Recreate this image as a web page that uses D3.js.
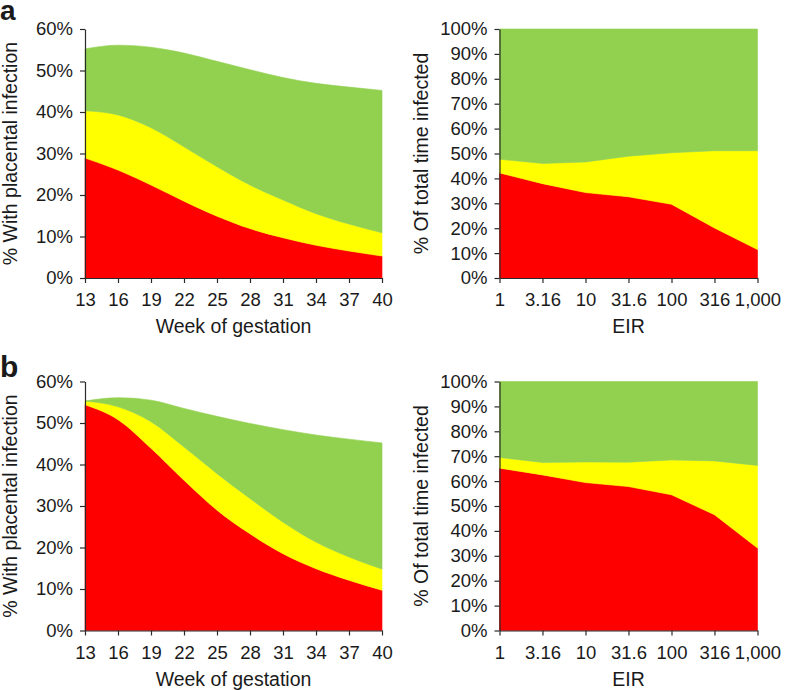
<!DOCTYPE html>
<html>
<head>
<meta charset="utf-8">
<script src="https://cdn.jsdelivr.net/npm/d3@7"></script>
<style>
  html, body { margin: 0; padding: 0; background: #fff; }
  svg { display: block; }
  text { font-family: "Liberation Sans", Arial, Helvetica, sans-serif; fill: #1a1a1a; }
</style>
</head>
<body>
<svg id="chart" width="788" height="690"></svg>
<script>
// ---------- DATA ----------
const weeks = [13, 16, 19, 22, 25, 28, 31, 34, 37, 40];
const weekTicks = [13, 16, 19, 22, 25, 28, 31, 34, 37, 40];

// Panel a (left): stacked components, % with placental infection
const aWeekRed    = [28.9, 26.0, 22.4, 18.5, 14.9, 11.9, 9.7, 7.9, 6.5, 5.3];
const aWeekYellow = [11.4, 13.3, 13.8, 13.1, 11.9, 10.5, 9.1, 7.6, 6.5, 5.6];
const aWeekGreen  = [14.9, 16.8, 19.4, 22.6, 25.4, 27.8, 29.5, 31.4, 33.0, 34.3];

// Panel b (left)
const bWeekRed    = [54.4, 50.8, 43.9, 36.2, 29.0, 23.3, 18.5, 14.9, 12.1, 9.7];
const bWeekYellow = [0.9, 3.1, 6.4, 8.0, 8.8, 8.5, 7.6, 6.4, 5.6, 5.1];
const bWeekGreen  = [0.0, 2.2, 5.2, 9.3, 13.8, 18.1, 22.3, 25.8, 28.4, 30.4];

const eir = [1, 3.16, 10, 31.6, 100, 316, 1000];
const eirLabels = ["1", "3.16", "10", "31.6", "100", "316", "1,000"];

// Panel a (right): % of total time infected
const aEirRed    = [42.2, 37.9, 34.3, 32.6, 29.6, 20.1, 11.4];
const aEirYellow = [5.5, 8.1, 12.3, 16.3, 20.7, 31.0, 39.7];
const aEirGreen  = [52.3, 54.0, 53.4, 51.1, 49.7, 48.9, 48.9];

// Panel b (right)
const bEirRed    = [65.2, 62.5, 59.4, 57.8, 54.5, 46.5, 33.1];
const bEirYellow = [4.3, 5.0, 8.3, 9.8, 14.0, 21.6, 33.2];
const bEirGreen  = [30.5, 32.5, 32.3, 32.4, 31.5, 31.9, 33.7];

const leftYTicks = [0, 10, 20, 30, 40, 50, 60];
const rightYTicks = [0, 10, 20, 30, 40, 50, 60, 70, 80, 90, 100];

const seriesKeys = ["red", "yellow", "green"];
const seriesColors = { red: "#ff0000", yellow: "#ffff00", green: "#92d050" };

const leftYTitle = "% With placental infection";
const leftXTitle = "Week of gestation";
const rightYTitle = "% Of total time infected";
const rightXTitle = "EIR";
const panelLetters = ["a", "b"];

// ---------- DRAW ----------
const svg = d3.select("#chart");
const axisColor = "#2a2a2a";

function rowsFrom(xs, r, y, g) {
  return xs.map((x, i) => ({ x: x, red: r[i], yellow: y[i], green: g[i] }));
}

function drawPanel(opt) {
  const { xs, red, yellow, green, xScale, yScale, curve, xTickVals, xTickFmt, yTickVals,
          yTitle, xTitle, yTitleX, xTitleX } = opt;
  const g = svg.append("g");
  const rows = rowsFrom(xs, red, yellow, green);
  const stack = d3.stack().keys(seriesKeys)(rows);
  const area = d3.area()
    .x(d => xScale(d.data.x))
    .y0(d => yScale(d[0]))
    .y1(d => yScale(d[1]))
    .curve(curve);
  g.selectAll("path.band").data(stack).join("path")
    .attr("class", "band")
    .attr("fill", d => seriesColors[d.key])
    .attr("stroke", d => seriesColors[d.key])
    .attr("stroke-width", 0.6)
    .attr("d", area);

  const y0 = yScale.range()[0];
  const x0 = xScale.range()[0];

  const xAxis = g.append("g").attr("transform", `translate(0,${y0})`)
    .call(d3.axisBottom(xScale).tickValues(xTickVals).tickFormat(xTickFmt)
      .tickSize(5).tickSizeOuter(0).tickPadding(10));
  const yAxis = g.append("g").attr("transform", `translate(${x0},0)`)
    .call(d3.axisLeft(yScale).tickValues(yTickVals).tickFormat(d => d + "%")
      .tickSize(5).tickSizeOuter(0).tickPadding(7));

  [xAxis, yAxis].forEach(ax => {
    ax.selectAll("path.domain").attr("stroke", axisColor).attr("stroke-width", 1.2);
    ax.selectAll(".tick line").attr("stroke", axisColor).attr("stroke-width", 1.2);
    ax.selectAll(".tick text")
      .attr("fill", "#1a1a1a")
      .style("font-family", '"Liberation Sans", Arial, Helvetica, sans-serif')
      .style("font-size", "18.5px");
  });
  xAxis.attr("font-size", null);
  yAxis.attr("font-size", null);

  const yMid = (yScale.range()[0] + yScale.range()[1]) / 2;
  const xMid = (xScale.range()[0] + xScale.range()[1]) / 2;

  g.append("text")
    .attr("transform", `translate(${yTitleX},${yMid}) rotate(-90)`)
    .attr("text-anchor", "middle")
    .style("font-size", "19.5px")
    .text(yTitle);

  g.append("text")
    .attr("x", xTitleX !== undefined ? xTitleX : xMid)
    .attr("y", y0 + 55)
    .attr("text-anchor", "middle")
    .style("font-size", "19.5px")
    .text(xTitle);
}

const leftX = d3.scaleLinear().domain([13, 40]).range([85, 382]);
const rightX = d3.scaleLog().domain([1, 1000]).range([499.5, 757.5]);

const panelRows = [
  { letterY: 20, top: 29, bottom: 278,
    L: [aWeekRed, aWeekYellow, aWeekGreen], R: [aEirRed, aEirYellow, aEirGreen] },
  { letterY: 376.5, top: 381.5, bottom: 630.5,
    L: [bWeekRed, bWeekYellow, bWeekGreen], R: [bEirRed, bEirYellow, bEirGreen] }
];

panelRows.forEach((p, i) => {
  const yL = d3.scaleLinear().domain([0, 60]).range([p.bottom, p.top]);
  const yR = d3.scaleLinear().domain([0, 100]).range([p.bottom, p.top]);

  drawPanel({
    xs: weeks, red: p.L[0], yellow: p.L[1], green: p.L[2],
    xScale: leftX, yScale: yL, curve: d3.curveMonotoneX,
    xTickVals: weekTicks, xTickFmt: d => String(d), yTickVals: leftYTicks,
    yTitle: leftYTitle, xTitle: leftXTitle, yTitleX: 17
  });

  drawPanel({
    xs: eir, red: p.R[0], yellow: p.R[1], green: p.R[2],
    xScale: rightX, yScale: yR, curve: d3.curveLinear,
    xTickVals: eir, xTickFmt: (d, j) => eirLabels[j], yTickVals: rightYTicks,
    yTitle: rightYTitle, xTitle: rightXTitle, yTitleX: 428
  });

  svg.append("text")
    .attr("x", 0)
    .attr("y", p.letterY)
    .style("font-size", i === 0 ? "28px" : "30px")
    .style("font-weight", "bold")
    .attr("fill", "#111")
    .text(panelLetters[i]);
});
</script>
</body>
</html>
